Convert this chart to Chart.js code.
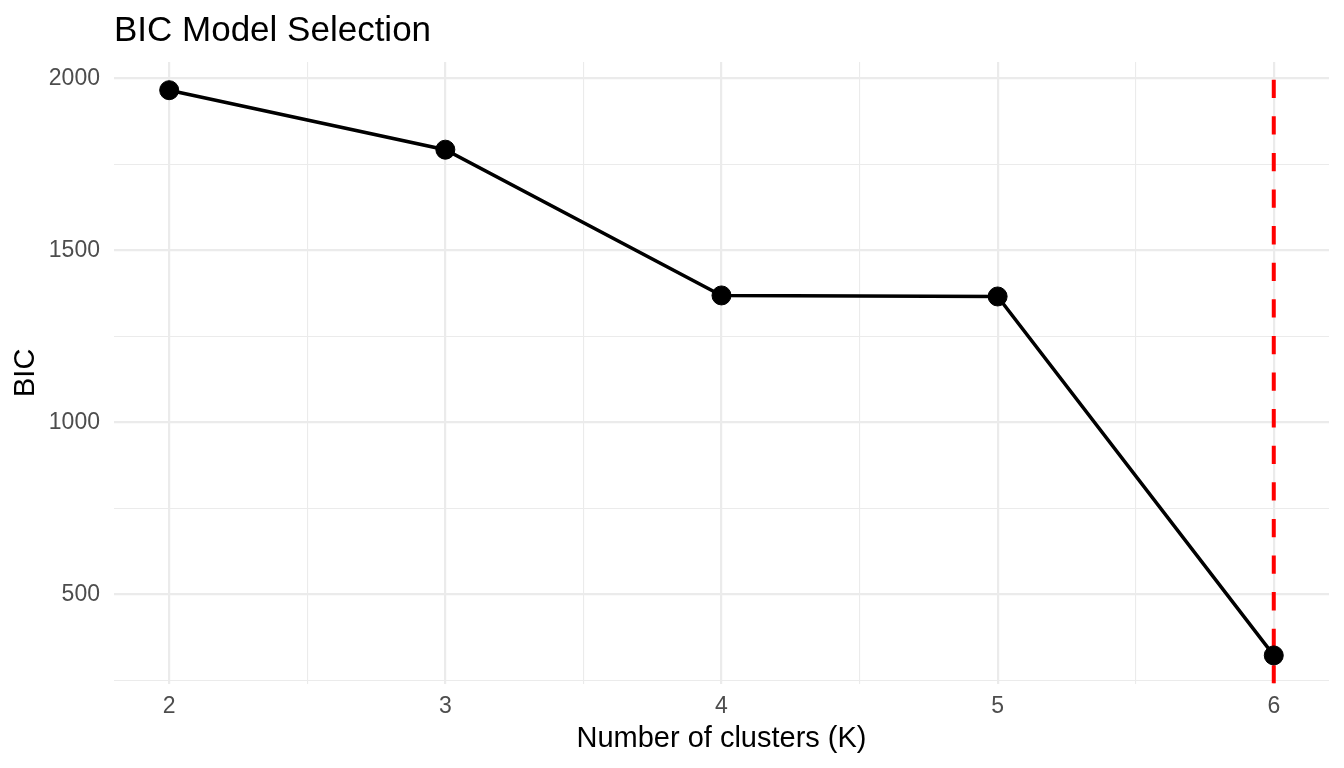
<!DOCTYPE html>
<html lang="en">
<head>
  <meta charset="UTF-8">
  <title>BIC Model Selection</title>
  <script src="https://cdn.jsdelivr.net/npm/chart.js"></script>
  <style>
    body {
      margin: 0;
      background-color: #ffffff;
    }
    #chart-container {
      width: 1344px;
      height: 768px;
      position: relative;
    }
  </style>
</head>
<body>

<div id="chart-container">
  <canvas id="bicChart"></canvas>
</div>

<script>
  // number of clusters and BIC per model
  const clusterCounts = [2, 3, 4, 5, 6];
  const bicValues = [1966, 1793, 1369, 1366, 322];
  const selectedK = 6;

  // axis ranges and tick positions (majors get labels, minors only grid)
  const xRange = [1.8, 6.2];
  const yRange = [240, 2048];
  const xTicks = [2, 2.5, 3, 3.5, 4, 4.5, 5, 5.5, 6];
  const yTicks = [250, 500, 750, 1000, 1250, 1500, 1750, 2000];

  const fontFamily = '"Liberation Sans", Arial, Helvetica, sans-serif';
  const gridColor = '#EBEBEB';

  const points = clusterCounts.map(function (k, i) {
    return { x: k, y: bicValues[i] };
  });

  const ctx = document.getElementById('bicChart').getContext('2d');
  new Chart(ctx, {
    type: 'line',
    data: {
      datasets: [
        {
          label: 'BIC',
          data: points,
          borderColor: '#000000',
          backgroundColor: '#000000',
          borderWidth: 3.5,
          pointRadius: 9.5,
          pointBorderWidth: 1,
          pointBackgroundColor: '#000000',
          pointBorderColor: '#000000',
          tension: 0
        },
        {
          label: 'Selected K',
          data: [{ x: selectedK, y: yRange[0] }, { x: selectedK, y: yRange[1] }],
          borderColor: '#FF0000',
          borderWidth: 4,
          borderDash: [18.3, 18.3],
          pointRadius: 0,
          fill: false
        }
      ]
    },
    options: {
      responsive: true,
      maintainAspectRatio: false,
      animation: false,
      layout: {
        padding: { top: 10, left: 5, right: 15, bottom: 5 }
      },
      plugins: {
        legend: { display: false },
        tooltip: { enabled: false },
        title: {
          display: true,
          text: 'BIC Model Selection',
          align: 'start',
          fullSize: false,
          color: '#000000',
          font: { family: fontFamily, size: 35, weight: 'normal' },
          padding: { top: 0, bottom: 10 }
        }
      },
      scales: {
        x: {
          type: 'linear',
          min: xRange[0],
          max: xRange[1],
          afterBuildTicks: function (scale) {
            scale.ticks = xTicks.map(function (v) { return { value: v }; });
          },
          ticks: {
            autoSkip: false,
            maxRotation: 0,
            padding: 9,
            color: '#4D4D4D',
            font: { family: fontFamily, size: 23 },
            callback: function (v) {
              return Number.isInteger(v) ? String(v) : '';
            }
          },
          grid: {
            color: gridColor,
            drawTicks: false,
            lineWidth: function (c) {
              return c.tick && Number.isInteger(c.tick.value) ? 2.2 : 1.1;
            }
          },
          border: { display: false },
          title: {
            display: true,
            text: 'Number of clusters (K)',
            color: '#000000',
            font: { family: fontFamily, size: 29 },
            padding: { top: -8, bottom: 7 }
          }
        },
        y: {
          type: 'linear',
          min: yRange[0],
          max: yRange[1],
          afterBuildTicks: function (scale) {
            scale.ticks = yTicks.map(function (v) { return { value: v }; });
          },
          ticks: {
            autoSkip: false,
            padding: 14,
            color: '#4D4D4D',
            font: { family: fontFamily, size: 23 },
            callback: function (v) {
              return v % 500 === 0 ? String(v) : '';
            }
          },
          grid: {
            color: gridColor,
            drawTicks: false,
            lineWidth: function (c) {
              return c.tick && c.tick.value % 500 === 0 ? 2.2 : 1.1;
            }
          },
          border: { display: false },
          title: {
            display: true,
            text: 'BIC',
            color: '#000000',
            font: { family: fontFamily, size: 29 },
            padding: { top: 4, bottom: -9 }
          }
        }
      }
    }
  });
</script>
</body>
</html>
